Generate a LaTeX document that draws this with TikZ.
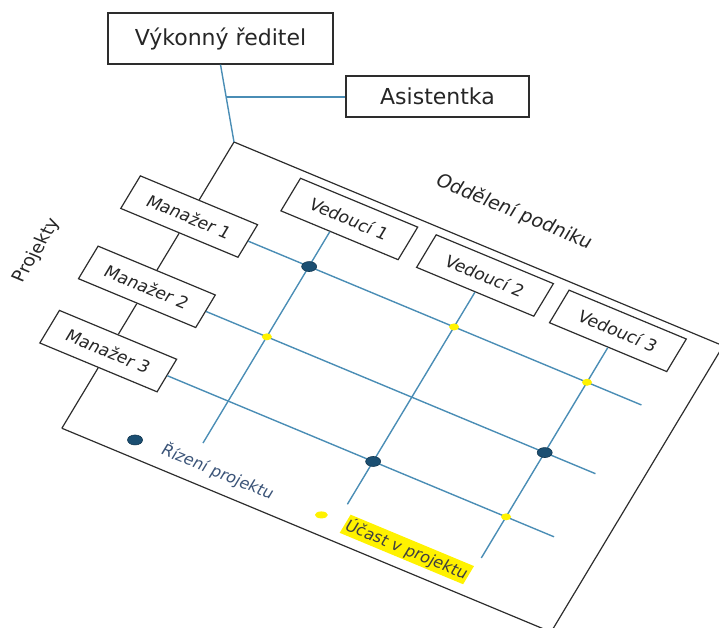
\documentclass[tikz,border=0pt]{standalone}
\usepackage{fontspec}
\setmainfont{DejaVu Sans}
\usetikzlibrary{calc,shapes.geometric}
\definecolor{gridblue}{RGB}{74,141,181}
\definecolor{dotdark}{RGB}{27,79,114}
\definecolor{legtext}{RGB}{59,84,120}
\definecolor{edge}{RGB}{45,45,45}
\begin{document}
\begin{tikzpicture}[x=1pt,y=1pt,
  box/.style={draw=edge, line width=1.2pt, fill=white, minimum width=127pt, minimum height=38pt,
    inner sep=0pt, text=black!85, font=\fontsize{17}{20}\selectfont, transform shape},
  topbox/.style={draw=edge, line width=1.2pt, fill=white, inner sep=0pt, text=black!85,
    font=\fontsize{22}{26}\selectfont},
  gridline/.style={draw=gridblue, line width=1.4pt},
  frame/.style={draw=edge, line width=1.2pt},
  bigdot/.style={ellipse, fill=dotdark, draw=dotdark!70!black, line width=0.6pt, inner sep=0pt,
    minimum width=15pt, minimum height=10pt},
  smalldot/.style={ellipse, fill=yellow, inner sep=0pt, minimum width=10pt, minimum height=7pt},
  plainlabel/.style={transform shape, inner sep=0pt, text=black!85}]
\useasboundingbox (0,0) rectangle (719,-627);
\clip (0,0) rectangle (719,-627);

\begin{scope}[cm={0.923,-0.3845,0.5154,0.857,(234,-142)}]
  \coordinate (T) at (0,0);
  \coordinate (R) at (530,0);
  \coordinate (B) at (530,-334);
  \coordinate (L) at (0,-334);
  \draw[frame] (T) -- (R) -- (B) -- (L);

  % grid line free ends
  \coordinate (p1e) at (490,-87);
  \coordinate (p2e) at (486,-169);
  \coordinate (p3e) at (483,-244);
  \coordinate (d1e) at (130,-293);
  \coordinate (d2e) at (287,-294);
  \coordinate (d3e) at (431,-292);

  % boxes
  \node[box] (m1) at (0,-87) {Manažer 1};
  \node[box] (m2) at (0,-169) {Manažer 2};
  \node[box] (m3) at (0,-244) {Manažer 3};
  \node[box] (v1) at (140,-27) {Vedoucí 1};
  \node[box] (v2) at (287,-27) {Vedoucí 2};
  \node[box] (v3) at (431,-27) {Vedoucí 3};

  % left edge
  \draw[frame] (T) -- (m1.north);
  \draw[frame] (m1.south) -- (m2.north);
  \draw[frame] (m2.south) -- (m3.north);
  \draw[frame] (m3.south) -- (L);

  % grid
  \draw[gridline] (m1.east) -- (p1e);
  \draw[gridline] (m2.east) -- (p2e);
  \draw[gridline] (m3.east) -- (p3e);
  \draw[gridline] ($(v1.south west)!0.42!(v1.south east)$) -- (d1e);
  \draw[gridline] (v2.south) -- (d2e);
  \draw[gridline] (v3.south) -- (d3e);

  % intersections
  \node[bigdot] (x11) at (130,-87) {};
  \node[smalldot] (x12) at (287,-87) {};
  \node[smalldot] (x13) at (431,-87) {};
  \node[smalldot] (x21) at (130,-169) {};
  \node[bigdot] (x23) at (431,-169) {};
  \node[bigdot] (x32) at (287,-244) {};
  \node[smalldot] (x33) at (431,-244) {};

  % labels
  \node[plainlabel, font=\fontsize{19}{22}\selectfont] (dept) at (279,43.5) {Oddělení podniku};
  \node[plainlabel, rotate=90, font=\fontsize{18}{21}\selectfont] (proj) at (-114,-178) {Projekty};

  % legend
  \node[bigdot] (lg1) at (69.5,-316.5) {};
  \node[plainlabel, anchor=west, text=legtext, font=\fontsize{16}{19}\selectfont] (lg1t) at (98,-314) {Řízení projektu};
  \node[smalldot, minimum width=13pt] (lg2) at (270,-314) {};
  \node[plainlabel, anchor=west, fill=yellow, inner sep=1.5pt, text=black!75,
    font=\fontsize{16}{19}\selectfont] (lg2t) at (295,-313) {Účast v projektu};
\end{scope}

% top part
\node[topbox, minimum width=225pt, minimum height=51pt] (ceo) at (220.5,-38.5) {Výkonný ředitel};
\node[topbox, minimum width=183pt, minimum height=41pt] (asist) at (437.5,-96.5) {Asistentka};
\draw[gridline] (ceo.south) -- (T);
\coordinate (br) at ($(ceo.south)!0.42!(T)$);
\draw[gridline] (br) -- (br -| asist.west);
\end{tikzpicture}
\end{document}
